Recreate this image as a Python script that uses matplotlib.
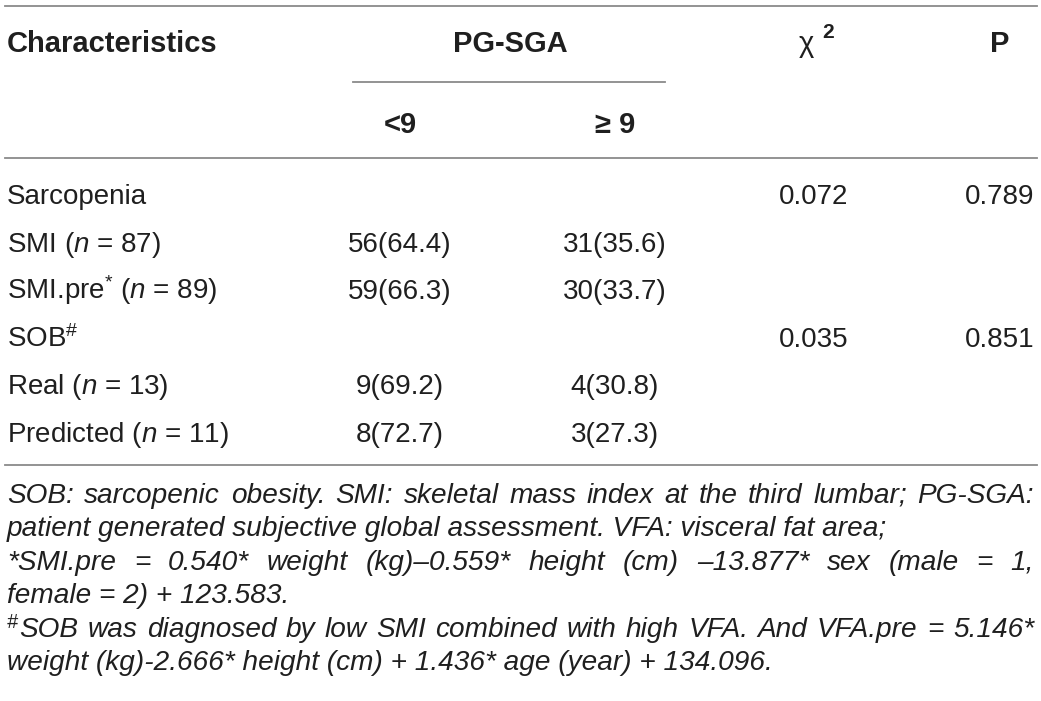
import matplotlib
matplotlib.use("Agg")
import matplotlib.pyplot as plt

plt.rcParams["font.family"] = ["Liberation Sans", "DejaVu Sans"]
plt.rcParams["mathtext.fontset"] = "custom"
plt.rcParams["mathtext.rm"] = "Liberation Sans"
plt.rcParams["mathtext.it"] = "Liberation Sans:italic"
plt.rcParams["mathtext.bf"] = "Liberation Sans:bold"

# table content
header_cols = ["Characteristics", "PG-SGA", "χ", "P"]
sub_cols = ["<9", "≥ 9"]
row_labels = ["Sarcopenia", "SMI ($n$ = 87)", "SMI.pre$^{*}$ ($n$ = 89)", "SOB$^{\\#}$",
              "Real ($n$ = 13)", "Predicted ($n$ = 11)"]
low_pg = ["", "56(64.4)", "59(66.3)", "", "9(69.2)", "8(72.7)"]
high_pg = ["", "31(35.6)", "30(33.7)", "", "4(30.8)", "3(27.3)"]
chi2 = ["0.072", "", "", "0.035", "", ""]
pvals = ["0.789", "", "", "0.851", "", ""]

notes = [
    ("SOB: sarcopenic obesity. SMI: skeletal mass index at the third lumbar; PG-SGA:", True),
    ("patient generated subjective global assessment. VFA: visceral fat area;", False),
    ("*SMI.pre = 0.540* weight (kg)–0.559* height (cm) –13.877* sex (male = 1,", True),
    ("female = 2) + 123.583.", False),
    ("#SOB was diagnosed by low SMI combined with high VFA. And VFA.pre = 5.146*", True),
    ("weight (kg)-2.666* height (cm) + 1.436* age (year) + 134.096.", False),
]

W, H = 1041, 701
fig = plt.figure(figsize=(W / 100, H / 100), dpi=100)
ax = fig.add_axes([0, 0, 1, 1])
ax.set_xlim(0, W)
ax.set_ylim(H, 0)
ax.axis("off")

txt = "#1f1f1f"
rule = "#8a8a8a"
fs = 20
hfs = 21
left, right = 7, 1034
col_x = [400, 615, 814, 1000]

# rules
ax.plot([5, 1037], [6, 6], color=rule, lw=1.3)
ax.plot([353, 665], [82, 82], color=rule, lw=1.3)
ax.plot([5, 1037], [158, 158], color=rule, lw=1.3)
ax.plot([5, 1037], [465, 465], color=rule, lw=1.3)

# header
hy = 52
ax.text(left, hy, header_cols[0], fontsize=hfs, weight="bold", color=txt, va="baseline")
ax.text(510, hy, header_cols[1], fontsize=hfs, weight="bold", color=txt, va="baseline", ha="center")
ax.text(806, hy, header_cols[2], fontsize=hfs, color=txt, va="baseline", ha="center")
ax.text(822, hy - 14, "2", fontsize=hfs * 0.72, weight="bold", color=txt, va="baseline")
ax.text(col_x[3], hy, header_cols[3], fontsize=hfs, weight="bold", color=txt, va="baseline", ha="center")
for x, s in zip(col_x[:2], sub_cols):
    ax.text(x, 133, s, fontsize=hfs, weight="bold", color=txt, va="baseline", ha="center")

# body rows
row_y0, row_dy = 204, 47.6
for i, lab in enumerate(row_labels):
    y = row_y0 + i * row_dy
    ax.text(left, y, lab, fontsize=fs, color=txt, va="baseline")
    for x, v in zip(col_x, [low_pg[i], high_pg[i], chi2[i], pvals[i]]):
        if v:
            ax.text(x, y, v, fontsize=fs, color=txt, va="baseline", ha="center")

# footnotes, justified like the journal layout
fig.canvas.draw()
rend = fig.canvas.get_renderer()
nfs = 20.2


def width_px(s, size=nfs):
    t = ax.text(0, 0, s, fontsize=size, style="italic")
    bb = t.get_window_extent(rend)
    t.remove()
    return bb.width


ny0, ndy = 503, 33.4
for k, (line, justify) in enumerate(notes):
    y = ny0 + k * ndy
    x0 = left
    if line.startswith("#"):
        ax.text(x0, y - 9, "#", fontsize=nfs * 0.7, style="italic", color=txt, va="baseline")
        x0 += width_px("#", nfs * 0.7) + 1
        line = line[1:]
    words = line.split(" ")
    if justify and len(words) > 1:
        widths = [width_px(w) for w in words]
        gap = (right - x0 - sum(widths)) / (len(words) - 1)
        x = x0
        for w, wd in zip(words, widths):
            ax.text(x, y, w, fontsize=nfs, style="italic", color=txt, va="baseline")
            x += wd + gap
    else:
        ax.text(x0, y, line, fontsize=nfs, style="italic", color=txt, va="baseline")

fig.savefig("out.png", dpi=100)
